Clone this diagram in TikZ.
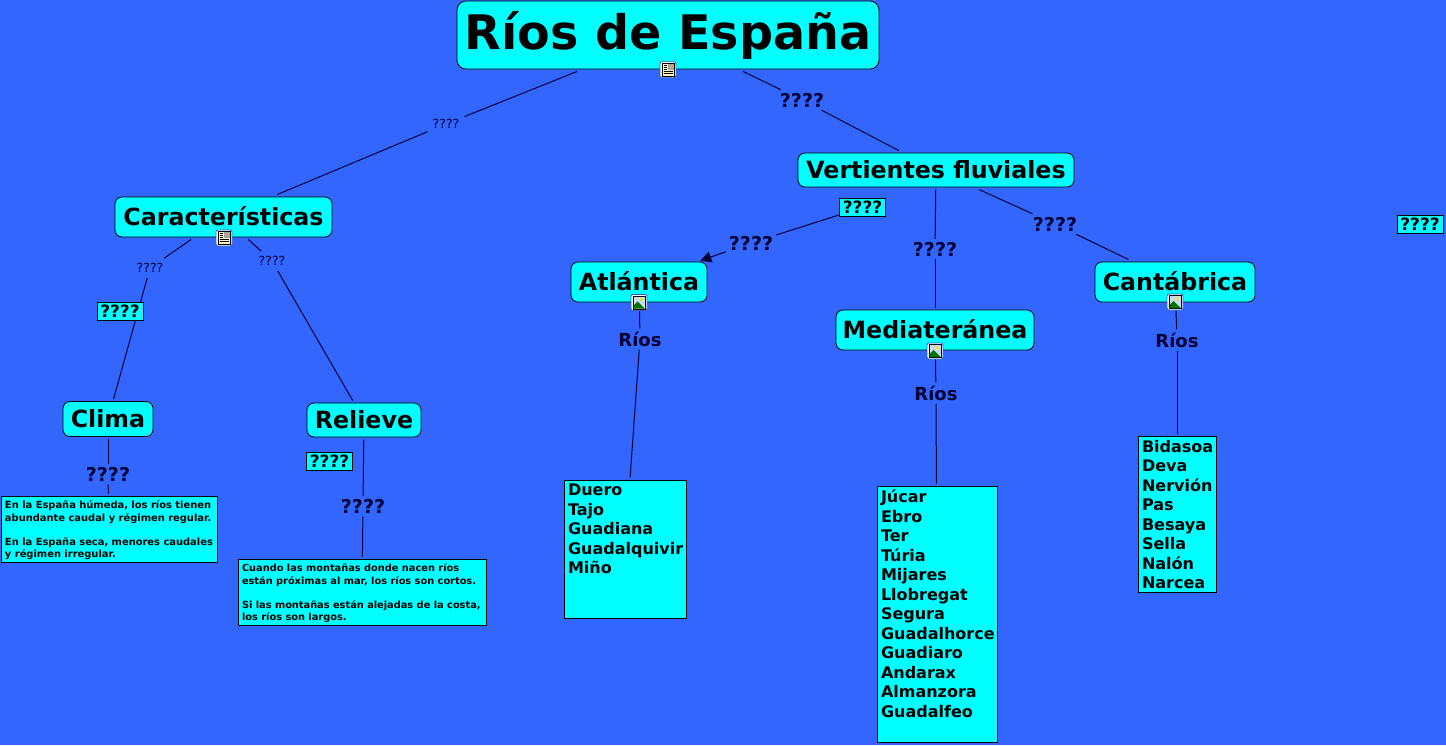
\documentclass[tikz,border=0pt]{standalone}
\usepackage{fontspec}
\setmainfont{DejaVu Sans}[BoldFont={DejaVu Sans Bold}]
\usetikzlibrary{arrows.meta}
\definecolor{bg}{HTML}{3366FF}
\definecolor{nodecy}{HTML}{00FFFF}
\definecolor{labelk}{HTML}{000033}
\definecolor{iconedge}{HTML}{2F62C8}
\definecolor{iconpaper}{HTML}{FFF8B0}
\definecolor{iconsky}{HTML}{C8DCF0}
\newcommand{\fs}[1]{\fontsize{#1}{#1}\selectfont\bfseries}
\newcommand{\leaftext}[6]{\parbox[c][#2pt][t]{#1pt}{\vspace*{#3pt}\fontsize{#4}{#5}\selectfont\bfseries\parindent=0pt\rightskip=0pt plus 1fil\hyphenpenalty=10000\relax #6}}
\tikzset{
  concept/.style={draw=black,fill=nodecy,rounded corners=7pt,line width=.8pt,inner sep=0pt,outer sep=2.5pt,text=black,font=\fs{23.7}},
  leaf/.style={draw=black,fill=nodecy,line width=.8pt,inner ysep=0pt,inner xsep=4pt,outer sep=2.5pt,text=black},
  tag/.style={draw=black,fill=nodecy,line width=.8pt,inner sep=0pt,minimum width=46pt,minimum height=18pt,font=\fs{17},text=black},
  biglabel/.style={text=labelk,inner sep=3pt,font=\fs{19}},
  midlabel/.style={text=labelk,inner sep=3pt,font=\fs{18}},
  tinylabel/.style={text=labelk,inner sep=5pt,font=\fontsize{12.5}{12.5}\selectfont},
  conn/.style={draw=labelk,line width=1pt},
  iconbox/.style={draw=iconedge,fill=white,rounded corners=2pt,line width=.8pt,minimum size=16pt,inner sep=0pt},
}
\newcommand{\docicon}[2]{%
  \node[iconbox] (#1) at (#2) {};
  \begin{scope}[shift={(#1.center)}]
    \fill[iconpaper,draw=black,line width=.7pt] (-6,-6.5) rectangle (6,6.5);
    \fill[gray!70!white] (0,-6) rectangle (5.5,0);
    \fill[orange!80!white] (2.5,-4.5) rectangle (4.5,-2.5);
    \foreach \yy/\xe in {-4.5/-1,-2.5/-1,-.5/-1,1.5/4.5,3.5/4.5}{\draw[black,line width=.8pt] (-4.5,\yy) -- (\xe,\yy);}
  \end{scope}}
\newcommand{\picicon}[2]{%
  \node[iconbox] (#1) at (#2) {};
  \begin{scope}[shift={(#1.center)}]
    \fill[iconsky,draw=black,line width=.7pt] (-6,-6.5) rectangle (6,6.5);
    \fill[green!45!black] (-5.5,6) -- (-5.5,3) -- (-1.5,-1) -- (5.5,6) -- cycle;
    \fill[yellow!85!orange] (2,-3) circle (1.8);
  \end{scope}}
\begin{document}
\begin{tikzpicture}[x=1pt,y=-1pt]
\useasboundingbox (0,0) rectangle (1446,745);
\fill[bg] (0,0) rectangle (1446,745);
% concepts
\node[concept,minimum width=422pt,minimum height=68pt,rounded corners=9pt,font=\fs{47.6}] (title) at (668,35) {\raisebox{2.5pt}{Ríos de España}};
\node[concept,minimum width=276pt,minimum height=34pt] (vert) at (936,170) {\raisebox{-1pt}{Vertientes fluviales}};
\node[concept,minimum width=217pt,minimum height=40pt] (car) at (223.5,217) {\raisebox{2pt}{Características}};
\node[concept,minimum width=136pt,minimum height=40pt] (atl) at (639,282) {\raisebox{2pt}{Atlántica}};
\node[concept,minimum width=198pt,minimum height=40pt] (med) at (935,330) {\raisebox{2pt}{Mediateránea}};
\node[concept,minimum width=160pt,minimum height=40pt] (can) at (1175,282) {\raisebox{2.5pt}{Cantábrica}};
\node[concept,minimum width=90pt,minimum height=35pt] (cli) at (108,419) {Clima};
\node[concept,minimum width=114pt,minimum height=34pt] (rel) at (364,420) {Relieve};
% leaves
\node[leaf] (lcli) at (109,529) {\leaftext{208}{66}{5}{9.9}{12.2}{En la España húmeda, los ríos tienen\\abundante caudal y régimen regular.\\[12.2pt]En la España seca, menores caudales\\y régimen irregular.}};
\node[leaf] (lrel) at (362,592) {\leaftext{240}{66}{5}{9.8}{12.2}{Cuando las montañas donde nacen ríos\\están próximas al mar, los ríos son cortos.\\[12.2pt]Si las montañas están alejadas de la costa,\\los ríos son largos.}};
\node[leaf] (latl) at (625,549) {\leaftext{114}{138}{4}{16}{19.5}{Duero\\Tajo\\Guadiana\\Guadalquivir\\Miño}};
\node[leaf] (lmed) at (937,614) {\leaftext{112}{256}{4}{16}{19.5}{Júcar\\Ebro\\Ter\\Túria\\Mijares\\Llobregat\\Segura\\Guadalhorce\\Guadiaro\\Andarax\\Almanzora\\Guadalfeo}};
\node[leaf] (lcan) at (1177,514) {\leaftext{70}{156}{4}{16}{19.5}{Bidasoa\\Deva\\Nervión\\Pas\\Besaya\\Sella\\Nalón\\Narcea}};
% labels
\node[tinylabel] (l1) at (446,124) {????};
\node[biglabel] (l2) at (802,100) {????};
\node[tinylabel] (l3) at (150,268) {????};
\node[tinylabel] (l4) at (272,261) {????};
\node[biglabel] (l5) at (751,243) {????};
\node[biglabel] (l6) at (935,249) {????};
\node[biglabel] (l7) at (1055,224) {????};
\node[midlabel] (r1) at (640,339) {Ríos};
\node[midlabel] (r2) at (936,393) {Ríos};
\node[midlabel] (r3) at (1177,340) {Ríos};
\node[biglabel] (l8) at (108,474) {????};
\node[biglabel] (l9) at (363,506) {????};
% connectors
\draw[conn] (title) -- (l1);
\draw[conn] (l1) -- (car);
\draw[conn] (title) -- (l2);
\draw[conn] (l2) -- (vert);
\draw[conn] (car) -- (l3);
\draw[conn] (l3) -- (cli);
\draw[conn] (car) -- (l4);
\draw[conn] (l4) -- (rel);
\draw[conn] (vert) -- (l6);
\draw[conn] (l6) -- (med);
\draw[conn] (vert) -- (l7);
\draw[conn] (l7) -- (can);
\draw[conn] (atl) -- (r1);
\draw[conn] (r1) -- (latl);
\draw[conn] (med) -- (r2);
\draw[conn] (r2) -- (lmed);
\draw[conn] (can) -- (r3);
\draw[conn] (r3) -- (lcan);
\draw[conn] (cli) -- (l8);
\draw[conn] (l8) -- (lcli);
\draw[conn] (rel) -- (l9);
\draw[conn] (l9) -- (lrel);
% tags
\node[tag] (t1) at (862.5,207.5) {????};
\node[tag] (t2) at (1420,224) {????};
\node[tag] (t3) at (120,311) {????};
\node[tag] (t4) at (329.5,461) {????};
\draw[conn] (t1) -- (l5);
\draw[conn,shorten >=-3.5pt,-{Triangle[length=11pt,width=11pt]}] (l5) -- (atl);
% icons
\docicon{i1}{668,69.7}
\docicon{i2}{224,238}
\picicon{i3}{639,302.5}
\picicon{i4}{935,351}
\picicon{i5}{1175,302}
\end{tikzpicture}
\end{document}
